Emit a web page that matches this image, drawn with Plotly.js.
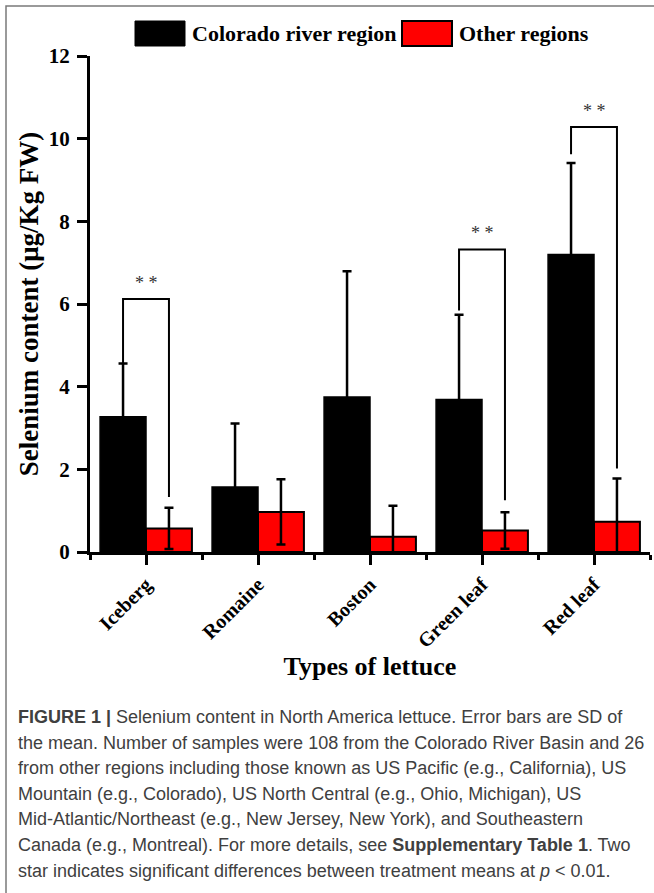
<!DOCTYPE html>
<html>
<head>
<meta charset="utf-8">
<script src="https://cdn.plot.ly/plotly-3.0.1.min.js"></script>
<style>
html,body{margin:0;padding:0;background:#fff;}
#chart{width:654px;height:893px;}
</style>
</head>
<body>
<div id="chart"></div>
<script>
// ---- data ----
const categories = ["Iceberg", "Romaine", "Boston", "Green leaf", "Red leaf"];
const coloradoMean = [3.27, 1.57, 3.75, 3.69, 7.20];
const coloradoSD   = [1.29, 1.54, 3.04, 2.05, 2.21];
const otherMean    = [0.57, 0.97, 0.37, 0.52, 0.73];
const otherSD      = [0.50, 0.79, 0.75, 0.44, 1.05];
const seriesNames  = ["Colorado river region", "Other regions"];
// significance brackets (two-star)
const sigCategories   = ["Iceberg", "Green leaf", "Red leaf"];
const bracketTop      = [6.12, 7.32, 10.28];
const bracketLeftEnd  = [4.56, 5.84, 9.62];
const bracketRightEnd = [1.33, 1.25, 2.02];
const sigLabel = "* *";
const yTicks = [0, 2, 4, 6, 8, 10, 12];

const captionLines = [
  "<b>FIGURE 1 |</b> Selenium content in North America lettuce. Error bars are SD of",
  "the mean. Number of samples were 108 from the Colorado River Basin and 26",
  "from other regions including those known as US Pacific (e.g., California), US",
  "Mountain (e.g., Colorado), US North Central (e.g., Ohio, Michigan), US",
  "Mid-Atlantic/Northeast (e.g., New Jersey, New York), and Southeastern",
  "Canada (e.g., Montreal). For more details, see <b>Supplementary Table 1</b>. Two",
  "star indicates significant differences between treatment means at <i>p</i> &lt; 0.01."
];

// ---- layout geometry ----
const W = 654, H = 893;
const M = {l: 90, r: 4, t: 56, b: 341};
const PW = W - M.l - M.r, PH = H - M.t - M.b;
const px = x => (x - M.l) / PW;          // pixel -> paper x
const py = y => (H - M.b - y) / PH;      // pixel -> paper y

const serif = "Liberation Serif, Times New Roman, serif";
const bargap = 0.18;
const half = (1 - bargap) / 4;           // offset of each bar centre from category centre
const idx = categories.map((c, i) => i);

const traces = [
  {
    type: "bar", name: seriesNames[0], x: idx, y: coloradoMean,
    marker: {color: "#000000", line: {color: "#000000", width: 1.5}},
    error_y: {type: "data", array: coloradoSD, symmetric: true, color: "#000000", thickness: 2.5, width: 4.5},
    showlegend: false, hoverinfo: "y"
  },
  {
    type: "bar", name: seriesNames[1], x: idx, y: otherMean,
    marker: {color: "#ff0000", line: {color: "#000000", width: 2}},
    error_y: {type: "data", array: otherSD, symmetric: true, color: "#000000", thickness: 2.5, width: 4.5},
    showlegend: false, hoverinfo: "y"
  }
];

// brackets
sigCategories.forEach((c, k) => {
  const i = categories.indexOf(c);
  traces.push({
    type: "scatter", mode: "lines",
    x: [i - half, i - half, i + half, i + half],
    y: [bracketLeftEnd[k], bracketTop[k], bracketTop[k], bracketRightEnd[k]],
    line: {color: "#000000", width: 2}, showlegend: false, hoverinfo: "skip", cliponaxis: false
  });
});

const annotations = [];
sigCategories.forEach((c, k) => {
  annotations.push({
    xref: "x", yref: "y", x: categories.indexOf(c), y: bracketTop[k],
    text: sigLabel, showarrow: false, xanchor: "center", yanchor: "bottom", yshift: 4,
    font: {family: serif, size: 18, color: "#333333"}
  });
});

// legend (custom, large swatches)
annotations.push(
  {xref: "paper", yref: "paper", x: px(190), y: py(33.5), xanchor: "left", yanchor: "middle",
   text: seriesNames[0], showarrow: false, font: {family: serif, size: 22, color: "#000", weight: "bold"}},
  {xref: "paper", yref: "paper", x: px(457), y: py(33.5), xanchor: "left", yanchor: "middle",
   text: seriesNames[1], showarrow: false, font: {family: serif, size: 22, color: "#000", weight: "bold"}}
);

// caption
const capY = [717, 743, 768, 794, 819, 845, 871];
captionLines.forEach((t, k) => {
  annotations.push({
    xref: "paper", yref: "paper", x: px(16), y: py(capY[k]), xanchor: "left", yanchor: "middle",
    text: t, showarrow: false, align: "left",
    font: {family: "Liberation Sans, Arial, sans-serif", size: 18, color: "#404040"}
  });
});

const shapes = [
  {type: "rect", xref: "paper", yref: "paper", x0: px(135), x1: px(185), y0: py(46), y1: py(21),
   fillcolor: "#000000", line: {color: "#000000", width: 1}},
  {type: "rect", xref: "paper", yref: "paper", x0: px(402), x1: px(452), y0: py(46), y1: py(21),
   fillcolor: "#ff0000", line: {color: "#000000", width: 2}},
  // figure frame (left + top)
  {type: "path", xref: "paper", yref: "paper",
   path: `M ${px(6)} ${py(H)} L ${px(6)} ${py(6)} L ${px(W)} ${py(6)}`,
   line: {color: "#7a7a7a", width: 1.5}}
];

const minorVals = categories.map((c, i) => i - 0.5).concat([categories.length - 0.5]);

const layout = {
  width: W, height: H, margin: M,
  paper_bgcolor: "#ffffff", plot_bgcolor: "#ffffff",
  barmode: "group", bargap: bargap, bargroupgap: 0,
  showlegend: false,
  xaxis: {
    type: "linear", range: [-0.5, categories.length - 0.5],
    tickmode: "array", tickvals: idx, ticktext: categories, tickangle: -45,
    ticks: "outside", ticklen: 10, tickwidth: 3, tickcolor: "#000",
    minor: {tickmode: "array", tickvals: minorVals, ticks: "outside", ticklen: 5, tickwidth: 3, tickcolor: "#000", showgrid: false},
    showline: true, linewidth: 3, linecolor: "#000", showgrid: false, zeroline: false,
    tickfont: {family: serif, size: 20, color: "#000", weight: "bold"},
    title: {text: "Types of lettuce", standoff: 6, font: {family: serif, size: 26, color: "#000", weight: "bold"}},
    fixedrange: true
  },
  yaxis: {
    range: [0, 12], tickmode: "array", tickvals: yTicks,
    ticks: "outside", ticklen: 10, tickwidth: 3, tickcolor: "#000",
    ticklabelstandoff: 3,
    showline: true, linewidth: 3, linecolor: "#000", showgrid: false, zeroline: false,
    tickfont: {family: serif, size: 21, color: "#000", weight: "bold"},
    title: {text: "Selenium content (μg/Kg FW)", standoff: 3, font: {family: serif, size: 27, color: "#000", weight: "bold"}},
    fixedrange: true
  },
  annotations: annotations,
  shapes: shapes
};

Plotly.newPlot("chart", traces, layout, {displayModeBar: false, staticPlot: true});
</script>
</body>
</html>
